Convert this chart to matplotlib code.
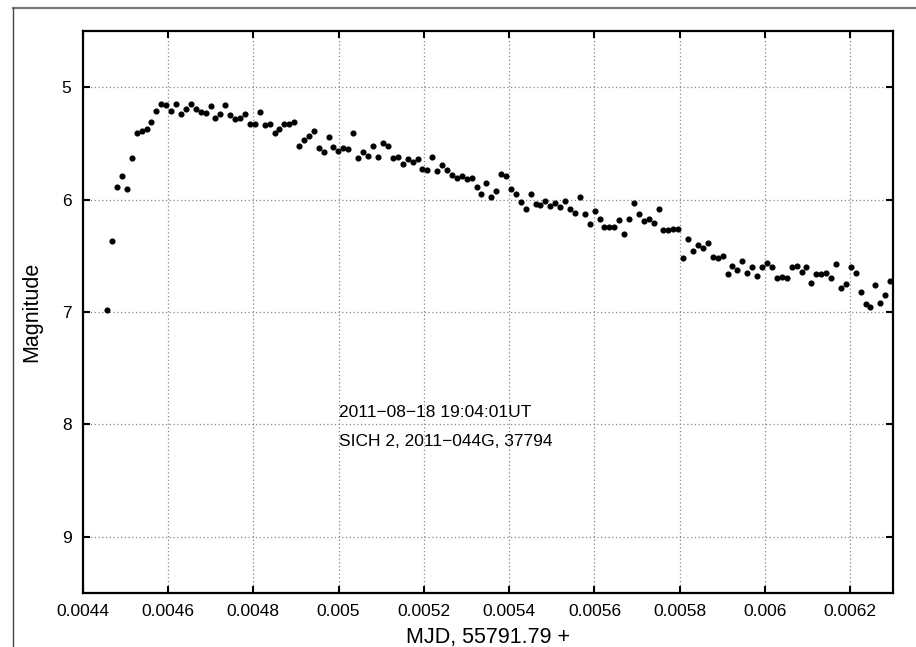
import matplotlib
matplotlib.use("Agg")
import matplotlib.pyplot as plt
from matplotlib.lines import Line2D

plt.rcParams["font.family"] = ["Liberation Sans", "DejaVu Sans"]

# time offset from MJD 55791.79 (days)
mjd = [
    0.0044572, 0.0044682, 0.0044800, 0.0044917, 0.0045034, 0.0045151, 0.0045268, 0.0045386,
    0.0045503, 0.0045611, 0.0045728, 0.0045838, 0.0045955, 0.0046073, 0.0046190, 0.0046307,
    0.0046424, 0.0046542, 0.0046659, 0.0046769, 0.0046886, 0.0047004, 0.0047111, 0.0047229,
    0.0047346, 0.0047463, 0.0047580, 0.0047698, 0.0047808, 0.0047925, 0.0048042, 0.0048159,
    0.0048277, 0.0048394, 0.0048499, 0.0048612, 0.0048729, 0.0048846, 0.0048957, 0.0049074,
    0.0049191, 0.0049308, 0.0049426, 0.0049543, 0.0049653, 0.0049770, 0.0049878, 0.0049995,
    0.0050113, 0.0050230, 0.0050347, 0.0050457, 0.0050575, 0.0050692, 0.0050809, 0.0050926,
    0.0051036, 0.0051154, 0.0051271, 0.0051388, 0.0051505, 0.0051623, 0.0051740, 0.0051857,
    0.0051965, 0.0052075, 0.0052192, 0.0052310, 0.0052427, 0.0052537, 0.0052654, 0.0052771,
    0.0052889, 0.0053006, 0.0053123, 0.0053240, 0.0053348, 0.0053466, 0.0053583, 0.0053700,
    0.0053810, 0.0053927, 0.0054038, 0.0054155, 0.0054272, 0.0054389, 0.0054507, 0.0054624,
    0.0054732, 0.0054849, 0.0054966, 0.0055083, 0.0055194, 0.0055311, 0.0055428, 0.0055545,
    0.0055663, 0.0055780, 0.0055890, 0.0056007, 0.0056124, 0.0056232, 0.0056350, 0.0056460,
    0.0056577, 0.0056694, 0.0056811, 0.0056929, 0.0057046, 0.0057156, 0.0057273, 0.0057391,
    0.0057508, 0.0057616, 0.0057733, 0.0057850, 0.0057968, 0.0058085, 0.0058202, 0.0058319,
    0.0058436, 0.0058547, 0.0058664, 0.0058774, 0.0058891, 0.0059008, 0.0059126, 0.0059233,
    0.0059351, 0.0059468, 0.0059585, 0.0059695, 0.0059813, 0.0059930, 0.0060047, 0.0060164,
    0.0060275, 0.0060392, 0.0060509, 0.0060626, 0.0060744, 0.0060861, 0.0060969, 0.0061086,
    0.0061203, 0.0061320, 0.0061431, 0.0061548, 0.0061665, 0.0061775, 0.0061892, 0.0062010,
    0.0062127, 0.0062244, 0.0062361, 0.0062469, 0.0062586, 0.0062704, 0.0062821, 0.0062938,
]

mag = [
    6.98, 6.37, 5.89, 5.79, 5.91, 5.63, 5.41, 5.39,
    5.37, 5.31, 5.21, 5.15, 5.16, 5.21, 5.15, 5.24,
    5.19, 5.15, 5.19, 5.22, 5.23, 5.17, 5.27, 5.24,
    5.16, 5.25, 5.28, 5.27, 5.24, 5.33, 5.33, 5.22,
    5.34, 5.33, 5.41, 5.37, 5.33, 5.33, 5.31, 5.52,
    5.47, 5.43, 5.39, 5.54, 5.58, 5.44, 5.53, 5.57,
    5.54, 5.55, 5.41, 5.63, 5.58, 5.61, 5.52, 5.62,
    5.50, 5.52, 5.63, 5.62, 5.68, 5.64, 5.67, 5.64,
    5.73, 5.74, 5.62, 5.75, 5.69, 5.74, 5.78, 5.81,
    5.79, 5.82, 5.81, 5.89, 5.95, 5.85, 5.98, 5.92,
    5.77, 5.79, 5.91, 5.95, 6.02, 6.08, 5.95, 6.04,
    6.05, 6.01, 6.06, 6.03, 6.07, 6.01, 6.08, 6.12,
    5.98, 6.13, 6.22, 6.10, 6.17, 6.24, 6.24, 6.24,
    6.18, 6.31, 6.17, 6.03, 6.13, 6.19, 6.17, 6.21,
    6.08, 6.27, 6.27, 6.26, 6.26, 6.52, 6.35, 6.46,
    6.40, 6.43, 6.39, 6.51, 6.52, 6.50, 6.66, 6.59,
    6.63, 6.55, 6.65, 6.60, 6.68, 6.60, 6.56, 6.60,
    6.70, 6.69, 6.70, 6.60, 6.59, 6.64, 6.60, 6.74,
    6.66, 6.66, 6.65, 6.70, 6.57, 6.79, 6.75, 6.60,
    6.65, 6.82, 6.93, 6.96, 6.76, 6.92, 6.85, 6.72,
]

xticks = [0.0044, 0.0046, 0.0048, 0.005, 0.0052, 0.0054, 0.0056, 0.0058, 0.006, 0.0062]
xticklabels = ["0.0044", "0.0046", "0.0048", "0.005", "0.0052", "0.0054",
               "0.0056", "0.0058", "0.006", "0.0062"]
yticks = [5, 6, 7, 8, 9]
info = ["2011\u221208\u221218 19:04:01UT", "SICH 2, 2011\u2212044G, 37794"]

fig = plt.figure(figsize=(9.16, 6.47), dpi=100)
ax = fig.add_axes([0.0902, 0.0835, 0.8847, 0.8686])

ax.plot(mjd, mag, "o", color="black", ms=3.4, mec="black", clip_on=True, zorder=3)

ax.set_xlim(0.0044, 0.0063)
ax.set_ylim(9.5, 4.5)
ax.set_xticks(xticks)
ax.set_xticklabels(xticklabels)
ax.set_yticks(yticks)

ax.grid(True, linestyle=(0, (1, 2)), color="#888888", linewidth=0.9)
ax.tick_params(direction="in", top=True, right=True, length=5, width=1.5,
               labelsize=12.5, pad=8)
for sp in ax.spines.values():
    sp.set_linewidth(1.6)

ax.set_xlabel("MJD, 55791.79 +", fontsize=15.5, labelpad=6)
ax.set_ylabel("Magnitude", fontsize=15.5, labelpad=14)

ax.text(0.005, 7.895, info[0], fontsize=12.5, va="center", ha="left")
ax.text(0.005, 8.155, info[1], fontsize=12.5, va="center", ha="left")

# outer frame lines along top and left edges
fig.add_artist(Line2D([13 / 916, 1], [1 - 8 / 647, 1 - 8 / 647], transform=fig.transFigure,
                      color="#777777", lw=1.6))
fig.add_artist(Line2D([13 / 916, 13 / 916], [0, 1 - 8 / 647], transform=fig.transFigure,
                      color="#444444", lw=1.0))

fig.savefig("out.png", dpi=100)
